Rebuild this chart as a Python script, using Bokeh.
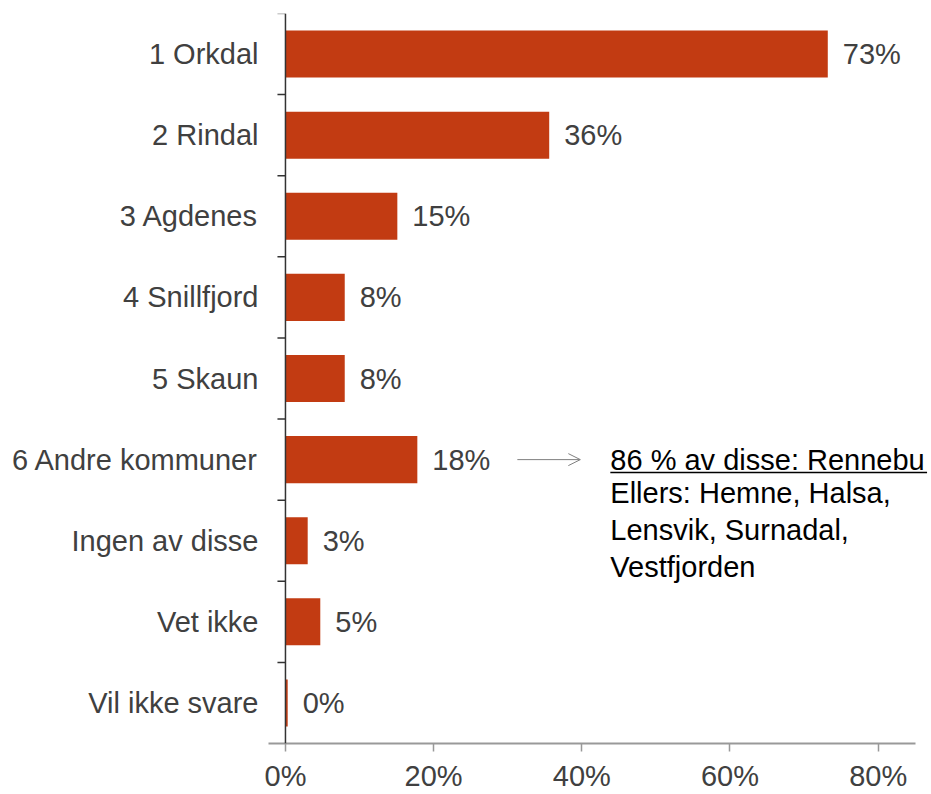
from bokeh.plotting import figure
from bokeh.models import (Range1d, FixedTicker, PrintfTickFormatter, Span, Label,
                          Arrow, OpenHead, ColumnDataSource)
from bokeh.core.properties import value
from bokeh.embed import file_html
from bokeh.resources import INLINE

categories = ["1 Orkdal", "2 Rindal", "3 Agdenes", "4 Snillfjord", "5 Skaun",
              "6 Andre kommuner", "Ingen av disse", "Vet ikke", "Vil ikke svare"]
values = [73.2, 35.6, 15.1, 8.0, 8.0, 17.8, 3.0, 4.7, 0.3]
x_ticks = [0, 20, 40, 60, 80]
note_lines = ["86 % av disse: Rennebu", "Ellers: Hemne, Halsa,", "Lensvik, Surnadal,", "Vestfjorden"]

FONT = "Liberation Sans"
FS = "29px"
BAR = "#C23B12"
TXT = "#404040"

n = len(categories)
ypos = [n - 1 - i for i in range(n)]
labels = [f"{round(v)}%" for v in values]

src = ColumnDataSource(dict(y=ypos, v=values, lab=labels, cat=categories))

p = figure(width=931, height=794, output_backend="svg", toolbar_location=None,
           x_range=Range1d(-2.29, 87.2), y_range=Range1d(-0.5, n - 0.5),
           min_border_left=268, min_border_right=0, min_border_top=13, min_border_bottom=49)
p.outline_line_color = None
p.xgrid.grid_line_color = None
p.ygrid.grid_line_color = None
p.background_fill_color = "white"

p.hbar(y="y", left=0, right="v", height=0.58, source=src, fill_color=BAR, line_color=None)
p.text(x="v", y="y", text="lab", source=src, x_offset=15, text_align="left",
       text_baseline="middle", text_font=value(FONT), text_font_size=FS, text_color=TXT)

# vertical axis line at 0 and boundary ticks
p.add_layout(Span(location=0, dimension="height", line_color="#333333", line_width=1.5))
bounds = [k + 0.5 for k in range(n)]
p.segment(x0=[-1.08] * n, x1=[0] * n, y0=bounds, y1=bounds,
          line_color=["#333333"] * (n - 1) + ["#999999"], line_width=1.5)

# y axis (labels only)
ya = p.yaxis[0]
ya.ticker = FixedTicker(ticks=ypos)
ya.major_label_overrides = {y: c for y, c in zip(ypos, categories)}
ya.axis_line_color = None
ya.major_tick_line_color = None
ya.minor_tick_line_color = None
ya.major_tick_out = 0
ya.major_tick_in = 0
ya.major_label_standoff = 10
ya.major_label_text_font = FONT
ya.major_label_text_font_size = FS
ya.major_label_text_color = TXT

# x axis
xa = p.xaxis[0]
xa.ticker = FixedTicker(ticks=x_ticks)
xa.formatter = PrintfTickFormatter(format="%d%%")
xa.bounds = (-2.29, 85.0)
xa.axis_line_color = "#999999"
xa.axis_line_width = 2
xa.major_tick_line_color = "#999999"
xa.major_tick_line_width = 1.5
xa.major_tick_out = 8
xa.major_tick_in = 0
xa.minor_tick_line_color = None
xa.major_label_standoff = 8
xa.major_label_text_font = FONT
xa.major_label_text_font_size = FS
xa.major_label_text_color = TXT

# annotation: arrow + note
row = ypos[5]
p.add_layout(Arrow(x_start=31.3, y_start=row, x_end=39.8, y_end=row,
                   line_color="#7f7f7f", line_width=1,
                   end=OpenHead(size=12, line_color="#7f7f7f", line_width=1)))
p.add_layout(Label(x=43.85, y=row, text=note_lines[0], text_align="left", text_baseline="middle",
                   text_font=FONT, text_font_size=FS, text_color="black"))
p.add_layout(Label(x=43.85, y=row - 0.22, text="\n".join(note_lines[1:]), text_align="left",
                   text_baseline="top", text_line_height=1.15,
                   text_font=FONT, text_font_size=FS, text_color="black"))
p.add_layout(Arrow(x_start=43.85, y_start=row - 0.16, x_end=86.6, y_end=row - 0.16,
                   line_color="black", line_width=1.5, start=None, end=None))

open("out.html", "w").write(file_html(p, INLINE))
